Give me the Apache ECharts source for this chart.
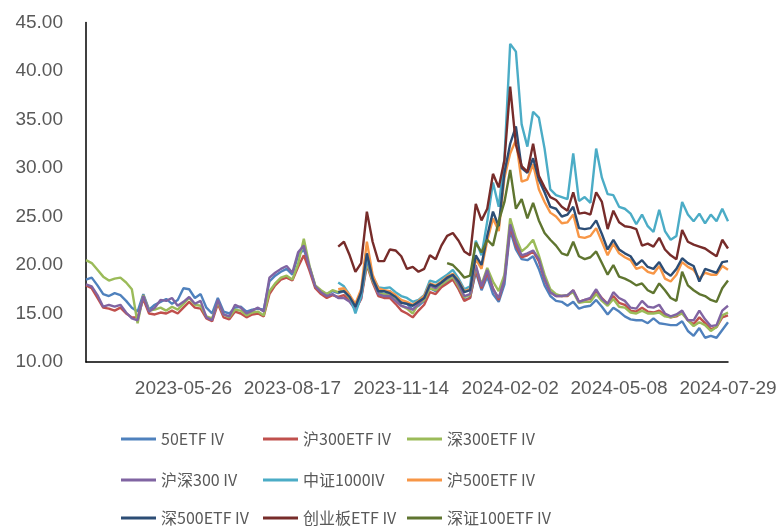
<!DOCTYPE html>
<html>
<head>
<meta charset="utf-8">
<script src="https://cdn.jsdelivr.net/npm/echarts/dist/echarts.min.js"></script>
<style>
  html, body { margin: 0; padding: 0; background: #fff; }
  #chart { width: 780px; height: 529px; }
</style>
</head>
<body>
<div id="chart"></div>
<script>
// sampled trading days (about every third session)
const categories = [
  '2023-03-10','2023-03-15','2023-03-20','2023-03-23','2023-03-28','2023-03-31','2023-04-06','2023-04-11','2023-04-14','2023-04-19',
  '2023-04-24','2023-04-27','2023-05-05','2023-05-10','2023-05-15','2023-05-18','2023-05-23','2023-05-26','2023-05-31','2023-06-05',
  '2023-06-08','2023-06-13','2023-06-16','2023-06-21','2023-06-28','2023-07-03','2023-07-06','2023-07-11','2023-07-14','2023-07-19',
  '2023-07-24','2023-07-27','2023-08-01','2023-08-04','2023-08-09','2023-08-14','2023-08-17','2023-08-22','2023-08-25','2023-08-30',
  '2023-09-04','2023-09-07','2023-09-12','2023-09-15','2023-09-20','2023-09-25','2023-10-09','2023-10-12','2023-10-17','2023-10-20',
  '2023-10-25','2023-10-30','2023-11-02','2023-11-07','2023-11-10','2023-11-14','2023-11-17','2023-11-22','2023-11-27','2023-11-30',
  '2023-12-05','2023-12-08','2023-12-13','2023-12-18','2023-12-21','2023-12-26','2023-12-29','2024-01-04','2024-01-09','2024-01-12',
  '2024-01-17','2024-01-22','2024-01-25','2024-01-30','2024-02-02','2024-02-07','2024-02-20','2024-02-23','2024-02-28','2024-03-04',
  '2024-03-07','2024-03-12','2024-03-15','2024-03-20','2024-03-25','2024-03-28','2024-04-02','2024-04-08','2024-04-11','2024-04-16',
  '2024-04-19','2024-04-24','2024-04-29','2024-05-08','2024-05-13','2024-05-16','2024-05-21','2024-05-24','2024-05-29','2024-06-03',
  '2024-06-06','2024-06-12','2024-06-17','2024-06-20','2024-06-25','2024-06-28','2024-07-03','2024-07-08','2024-07-11','2024-07-16',
  '2024-07-19','2024-07-24','2024-07-29'
];
const tickLabels = ['2023-05-26', '2023-08-17', '2023-11-14', '2024-02-02', '2024-05-08', '2024-07-29'];

const etf50 = [
  18.5, 18.7, 17.9, 17.0, 16.8, 17.1, 16.9, 16.3, 15.6, 15.2,
  17.0, 15.4, 15.9, 16.2, 16.5, 16.0, 16.4, 17.6, 17.5, 16.6,
  17.0, 15.6, 15.0, 16.6, 15.2, 15.0, 15.6, 15.7, 15.2, 15.4,
  15.5, 15.4, 18.3, 18.9, 19.3, 19.6, 19.0, 21.0, 21.6, 19.8,
  17.8, 17.3, 17.0, 17.3, 17.1, 17.3, 16.7, 15.8, 16.8, 20.3,
  18.5, 17.2, 17.0, 17.3, 16.8, 16.2, 16.0, 15.4, 15.8, 16.3,
  17.6, 17.3, 17.9, 18.3, 18.7, 17.6, 16.4, 16.6, 19.3, 17.4,
  18.8, 17.0, 16.2, 18.0, 23.6, 21.6, 20.6, 20.5, 20.9, 19.6,
  17.9, 16.8, 16.3, 16.2, 15.8, 16.2, 15.5, 15.7, 15.8, 16.4,
  15.7, 14.9, 15.6, 15.2, 14.7, 14.4, 14.3, 14.3, 14.0, 14.5,
  14.0, 13.9, 13.8, 13.8, 14.2, 13.2, 12.7, 13.5, 12.5, 12.7,
  12.5, 13.3, 14.1
];
const hu300 = [
  17.9, 17.6, 16.6, 15.6, 15.5, 15.3, 15.6, 15.0, 14.6, 14.6,
  16.5, 15.0, 14.9, 15.1, 15.0, 15.3, 15.0, 15.6, 16.2, 15.6,
  15.5, 14.5, 14.2, 16.0, 14.6, 14.4, 15.2, 15.0, 14.6, 14.9,
  15.0, 14.7, 17.0, 17.9, 18.5, 18.7, 18.4, 19.8, 21.0, 19.4,
  17.6, 17.0, 16.6, 16.9, 16.7, 16.9, 16.3, 15.4, 16.5, 20.0,
  18.2, 16.8, 16.6, 16.6, 16.0, 15.3, 15.0, 14.6, 15.3, 15.9,
  17.2, 17.0, 17.7, 18.1, 18.5, 17.5, 16.3, 16.6, 19.5, 17.6,
  19.2, 17.6, 16.4, 18.6, 24.0, 22.0, 20.8, 21.0, 21.4, 20.4,
  18.5, 17.2, 16.8, 16.8, 16.8, 17.4, 16.2, 16.4, 16.5, 17.3,
  16.6, 16.0, 16.8, 16.1, 15.9, 15.3, 15.2, 15.6, 15.2, 15.1,
  15.3, 14.8, 14.6, 14.7, 15.1, 14.3, 13.9, 14.6, 14.0, 13.4,
  13.6, 14.6, 14.8
];
const shen300 = [
  20.5, 20.2, 19.5, 18.8, 18.4, 18.6, 18.7, 18.2, 17.5, 14.0,
  16.9, 15.3, 15.4, 15.6, 15.3, 15.7, 15.4, 16.0, 16.6, 15.9,
  15.8, 14.7, 14.5, 16.2, 14.9, 14.6, 15.4, 15.3, 14.8, 15.1,
  15.2, 14.8, 17.3, 18.1, 18.7, 18.9, 18.5, 20.1, 22.7, 19.9,
  17.9, 17.4, 17.0, 17.4, 17.2, 17.4, 16.6, 15.7, 16.8, 20.2,
  18.4, 17.1, 17.0, 16.9, 16.4, 15.8, 15.5, 15.0, 16.0, 16.4,
  17.6, 17.4, 18.0, 18.4, 18.8, 17.8, 16.7, 16.9, 19.8, 18.0,
  19.7, 18.3, 17.3, 19.0, 24.8, 22.8, 21.4, 21.9, 22.6, 21.0,
  19.0, 17.5, 17.0, 16.8, 16.9, 17.2, 16.1, 16.2, 16.2, 17.0,
  16.3, 15.8, 16.5, 15.7, 15.6, 15.1, 15.0, 15.3, 15.0, 15.0,
  15.1, 14.7, 14.6, 14.8, 15.0, 14.3, 13.7, 14.1, 13.8, 13.2,
  13.6, 14.8, 15.1
];
const hs300 = [
  18.0, 17.8, 16.9, 15.7, 15.9, 15.7, 15.9, 15.1, 14.5, 14.3,
  16.8, 15.2, 15.6, 16.4, 16.3, 16.6, 15.8, 16.2, 16.7, 16.0,
  16.3, 14.6, 14.3, 16.4, 14.9, 14.7, 15.9, 15.6, 15.0, 15.3,
  15.6, 15.2, 18.7, 19.2, 19.6, 19.9, 19.2, 21.3, 22.0, 19.7,
  17.8, 17.2, 16.8, 17.0, 16.6, 16.6, 16.2, 15.4, 16.6, 20.6,
  18.6, 17.0, 16.8, 16.8, 16.3, 15.8, 15.6, 15.4, 16.0, 16.6,
  17.9, 17.6, 18.2, 18.6, 19.0, 18.0, 16.8, 17.0, 20.0, 17.8,
  19.5, 17.5, 16.6, 18.5, 24.2, 22.3, 21.0, 21.2, 21.5, 20.6,
  18.6, 17.2, 16.8, 16.8, 16.9, 17.4, 16.2, 16.4, 16.6, 17.5,
  16.5, 16.0, 17.2, 16.6, 16.3, 15.6, 15.5, 16.3, 15.7, 15.6,
  15.9, 15.0, 14.7, 14.9, 15.3, 14.3, 14.3, 15.3, 14.4, 13.7,
  13.8, 15.3, 15.8
];

// these four series start on 2023-09-20, 深证100 on 2023-12-18
const lateStart = 44;
const sz100Start = 63;
const zz1000 = [
  18.2, 17.8, 16.9, 15.0, 16.8, 20.8, 18.8, 17.7, 17.6, 17.7, 17.2, 16.8, 16.6, 16.2,
  16.4, 16.9, 18.4, 18.2, 18.6, 19.0, 19.5, 18.6, 17.5, 17.8,
  22.5, 21.0, 24.5, 28.5, 26.0, 31.0, 42.8, 42.0, 34.5, 32.2,
  35.8, 35.2, 32.0, 27.8, 27.2, 27.0, 26.8, 31.5, 26.6, 27.0,
  26.4, 32.0, 29.0, 27.3, 27.2, 26.0, 25.8, 25.3, 24.2, 25.2,
  24.0, 23.4, 25.7, 23.5, 22.6, 23.0, 26.5, 25.2, 24.5, 25.3,
  24.3, 25.2, 24.5, 25.8, 24.5
];
const hu500 = [
  17.5, 17.6, 16.9, 16.0, 17.5, 22.4, 19.0, 17.6, 17.4, 17.3, 16.9, 16.4, 16.2, 15.9,
  16.3, 16.8, 18.1, 17.9, 18.3, 18.8, 19.1, 18.4, 17.3, 17.5,
  20.6, 19.6, 22.5, 24.8, 23.5, 29.0, 31.5, 32.9, 28.6, 28.8,
  30.4, 27.8, 26.5, 25.4, 25.0, 24.3, 24.4, 25.2, 22.9, 22.8,
  23.0, 23.8, 22.4, 21.0, 22.2, 21.2, 20.8, 20.5, 19.6, 19.8,
  19.3, 19.1, 19.9, 18.6, 18.3, 19.0, 20.3, 19.8, 19.5, 18.6,
  19.2, 19.0, 19.0, 19.9, 19.5
];
const shen500 = [
  17.2, 17.3, 16.7, 15.7, 17.2, 21.2, 18.6, 17.3, 17.3, 17.1, 16.7, 16.1, 16.0, 15.8,
  16.2, 16.6, 18.0, 17.8, 18.2, 18.7, 19.0, 18.3, 17.2, 17.4,
  21.0, 20.0, 23.0, 25.5, 24.0, 29.5, 32.5, 34.3, 30.0, 29.5,
  31.0, 28.8, 27.5, 26.0, 25.8, 25.0, 25.2, 26.0, 23.8, 23.7,
  23.8, 24.6, 23.2, 21.6, 22.6, 21.6, 21.2, 20.9, 20.0, 20.5,
  19.8, 19.6, 20.3, 19.3, 18.9, 19.6, 20.7, 20.2, 19.9, 18.3,
  19.6, 19.4, 19.2, 20.3, 20.4
];
const cyb = [
  21.9, 22.4, 21.0, 19.3, 20.2, 25.5, 22.4, 20.4, 20.4, 21.6, 21.5, 20.9, 19.6, 19.8,
  19.3, 19.6, 21.0, 20.6, 22.0, 23.0, 23.3, 22.5, 21.4, 21.0,
  26.3, 24.6, 25.8, 29.4, 28.0, 30.8, 38.4, 32.4, 30.2, 29.6,
  32.5, 29.2, 28.0, 27.0, 26.7, 26.0, 25.6, 27.5, 25.3, 25.4,
  25.2, 27.5, 26.5, 23.7, 25.6, 24.4, 24.0, 23.9, 23.7, 22.0,
  22.2, 21.9, 22.8, 21.6, 21.0, 20.6, 23.6, 22.4, 22.1, 21.9,
  21.7, 21.3, 20.9, 22.6, 21.7
];
const sz100 = [
  20.2, 20.0, 19.4, 18.7, 18.9,
  22.3, 21.3, 22.6, 22.0, 24.5, 26.5, 29.8, 25.8, 26.8, 24.8,
  26.4, 24.6, 23.3, 22.6, 22.0, 21.2, 21.0, 22.4, 20.9, 20.6,
  20.8, 21.4, 20.2, 19.0, 20.0, 18.8, 18.6, 18.3, 17.9, 18.1,
  17.4, 17.1, 18.1, 17.4, 16.6, 16.3, 19.3, 17.9, 17.4, 17.0,
  16.8, 16.4, 16.2, 17.6, 18.4
];

const lead = (n, vals) => new Array(n).fill(null).concat(vals);

const seriesList = [
  { name: '50ETF IV', data: etf50, color: '#4F81BD' },
  { name: '沪300ETF IV', data: hu300, color: '#C0504D' },
  { name: '深300ETF IV', data: shen300, color: '#9BBB59' },
  { name: '沪深300 IV', data: hs300, color: '#8064A2' },
  { name: '中证1000IV', data: lead(lateStart, zz1000), color: '#4BACC6' },
  { name: '沪500ETF IV', data: lead(lateStart, hu500), color: '#F79646' },
  { name: '深500ETF IV', data: lead(lateStart, shen500), color: '#2C4D75' },
  { name: '创业板ETF IV', data: lead(lateStart, cyb), color: '#772C2A' },
  { name: '深证100ETF IV', data: lead(sz100Start, sz100), color: '#5F7530' }
];

const labelColor = '#595959';
// legend grid: 3 columns x 3 rows, in series order
const legendLefts = [121, 263, 407];
const legendTops = [430, 471, 509];

const chart = echarts.init(document.getElementById('chart'));

const option = {
  animation: false,
  backgroundColor: '#fff',
  grid: {
    left: 86,
    right: 52,
    top: 22.5,
    bottom: 167,
    containLabel: false,
    outerBoundsMode: 'none'
  },
  legend: seriesList.map((s, i) => ({
    data: [s.name],
    left: legendLefts[i % 3],
    top: legendTops[Math.floor(i / 3)],
    icon: 'rect',
    itemWidth: 35,
    itemHeight: 3,
    selectedMode: false,
    padding: 0,
    textStyle: {
      color: labelColor,
      fontSize: 16,
      lineHeight: 18,
      fontFamily: 'Noto Sans CJK SC'
    }
  })),
  xAxis: {
    type: 'category',
    data: categories,
    boundaryGap: false,
    axisLine: { lineStyle: { color: '#000', width: 1.5 } },
    axisTick: { show: false },
    axisLabel: {
      interval: (idx, val) => tickLabels.indexOf(val) >= 0,
      color: labelColor,
      fontSize: 19,
      fontFamily: 'Liberation Sans',
      margin: 17
    },
    splitLine: { show: false }
  },
  yAxis: {
    type: 'value',
    min: 10,
    max: 45,
    interval: 5,
    axisLine: { show: true, lineStyle: { color: '#000', width: 1.5 } },
    axisTick: { show: false },
    axisLabel: {
      formatter: v => v.toFixed(2),
      color: labelColor,
      fontSize: 19,
      fontFamily: 'Liberation Sans',
      margin: 23
    },
    splitLine: { show: false }
  },
  series: seriesList.map(s => ({
    name: s.name,
    type: 'line',
    data: s.data,
    color: s.color,
    showSymbol: false,
    symbol: 'none',
    connectNulls: false,
    lineStyle: { width: 2.4, color: s.color },
    itemStyle: { color: s.color },
    emphasis: { disabled: true }
  }))
};

chart.setOption(option);
</script>
</body>
</html>
